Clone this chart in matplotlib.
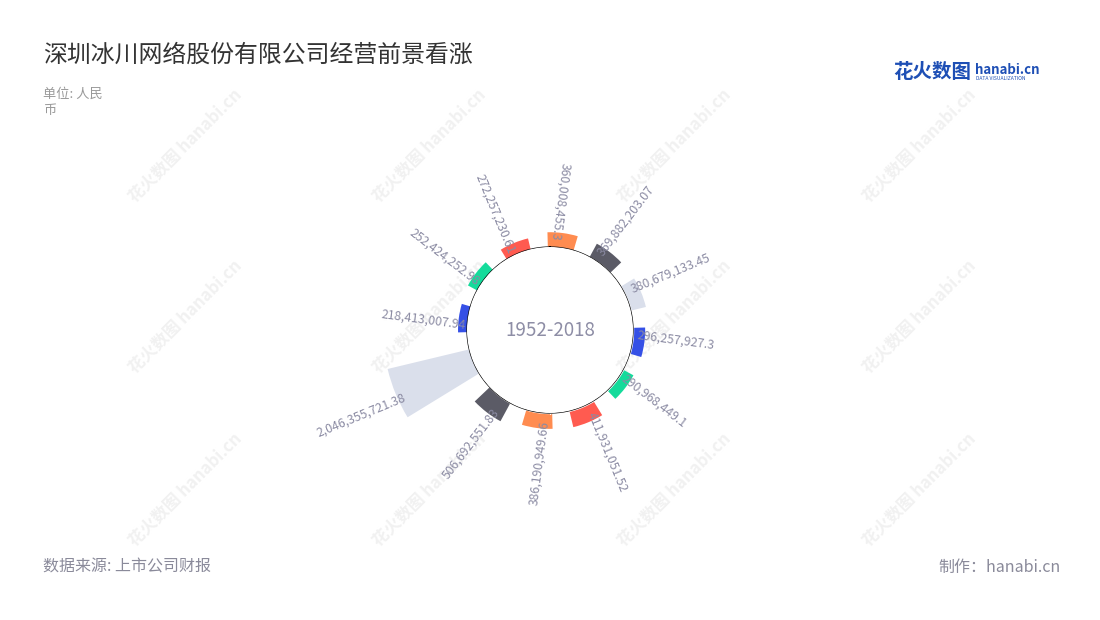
#!/usr/bin/env python3
"""Radial bar chart: 深圳冰川网络 operating figures (hanabi style)."""

import numpy as np
import matplotlib
matplotlib.use("Agg")
import matplotlib.pyplot as plt

plt.rcParams["font.family"] = ["Noto Sans CJK SC", "DejaVu Sans"]
plt.rcParams["axes.unicode_minus"] = False

TITLE = "深圳冰川网络股份有限公司经营前景看涨"
UNIT = "单位: 人民\n币"
SOURCE = "数据来源: 上市公司财报"
MAKER = "制作：hanabi.cn"
CENTER_LABEL = "1952-2018"

# clockwise from the top
values = [
    360008455.3, 369882203.07, 380679133.45, 296257927.3,
    290968449.1, 411931051.52, 386190949.66, 506692551.83,
    2046355721.38, 218413007.94, 252424252.98, 272257230.61,
]
labels = [
    "360,008,455.3", "369,882,203.07", "380,679,133.45", "296,257,927.3",
    "290,968,449.1", "411,931,051.52", "386,190,949.66", "506,692,551.83",
    "2,046,355,721.38", "218,413,007.94", "252,424,252.98", "272,257,230.61",
]
palette = ["#FF8C50", "#5B5B66", "#DADFEB", "#3550E6", "#14DB9B", "#FF5B50"]

TEXT_GRAY = "#8B8BA3"


def main() -> None:
    fig = plt.figure(figsize=(11, 6.2), dpi=100)
    fig.patch.set_facecolor("white")

    # faint watermark grid, kept under the chart
    for wx in [0.168, 0.39, 0.613, 0.836]:
        for wy in [0.765, 0.49, 0.21]:
            fig.text(wx, wy, "花火数图 hanabi.cn", rotation=45, fontsize=12,
                     color="#F1F1F1", ha="center", va="center",
                     fontweight="bold", zorder=-5)

    # px per yuan: ~84px for the largest bar
    k = 84 / values[8]
    hole = 83 / k
    rad_px = 200
    rmax = (rad_px - 83) / k
    ax = fig.add_axes([(550 - rad_px) / 1100, (290 - rad_px) / 620,
                       2 * rad_px / 1100, 2 * rad_px / 620], projection="polar")
    ax.set_zorder(1)
    ax.patch.set_alpha(0)
    ax.set_theta_zero_location("N")
    ax.set_theta_direction(-1)
    ax.set_ylim(0, rmax)
    ax.set_rorigin(-hole)
    ax.set_axis_off()

    n = len(values)
    bearings = 7.5 + 30 * np.arange(n)
    theta = np.deg2rad(bearings)
    colors = [palette[i % len(palette)] for i in range(n)]
    ax.bar(theta, values, width=np.deg2rad(18), bottom=0, color=colors,
           linewidth=0, zorder=2)

    # inner circle
    circ = np.linspace(0, 2 * np.pi, 400)
    ax.fill_between(circ, -hole, 0, color="white", zorder=3)
    ax.plot(circ, np.zeros_like(circ), color="black", lw=0.9, zorder=4)

    off = 8 / k
    for th, b, v, lab in zip(theta, bearings, values, labels):
        r = v - off
        if 15 < b < 180:
            ax.text(th, r, lab, rotation=90 - b, rotation_mode="anchor",
                    ha="left", va="bottom", fontsize=8.8, color=TEXT_GRAY, zorder=5)
        else:
            ax.text(th, r, lab, rotation=270 - b, rotation_mode="anchor",
                    ha="right", va="top", fontsize=8.8, color=TEXT_GRAY, zorder=5)

    ax.text(0.5, 0.5, CENTER_LABEL, transform=ax.transAxes, ha="center",
            va="center", fontsize=13.5, color="#8E8EA6", zorder=6)

    fig.text(43 / 1100, 1 - 55 / 620, TITLE, fontsize=17.2, color="#333333",
             ha="left", va="center")
    fig.text(43 / 1100, 1 - 88 / 620, UNIT, fontsize=9.5, color="#999999",
             ha="left", va="top", linespacing=1.3)
    fig.text(43 / 1100, 1 - 567 / 620, SOURCE, fontsize=11.5, color="#8A8A9A",
             ha="left", va="center")
    fig.text(1061 / 1100, 1 - 567 / 620, MAKER, fontsize=11.5, color="#8A8A9A",
             ha="right", va="center")

    # logo
    fig.text(893 / 1100, 1 - 73 / 620, "花火数图", fontsize=14, color="#1E4FB5",
             fontweight="bold", ha="left", va="center")
    fig.text(975 / 1100, 1 - 70 / 620, "hanabi.cn", fontsize=9.5, color="#1E4FB5",
             fontweight="bold", ha="left", va="center")
    fig.text(976 / 1100, 1 - 79 / 620, "DATA VISUALIZATION", fontsize=3.6,
             color="#1E4FB5", ha="left", va="center")

    fig.savefig("out.png", dpi=100, facecolor="white")
    plt.close(fig)


if __name__ == "__main__":
    main()
